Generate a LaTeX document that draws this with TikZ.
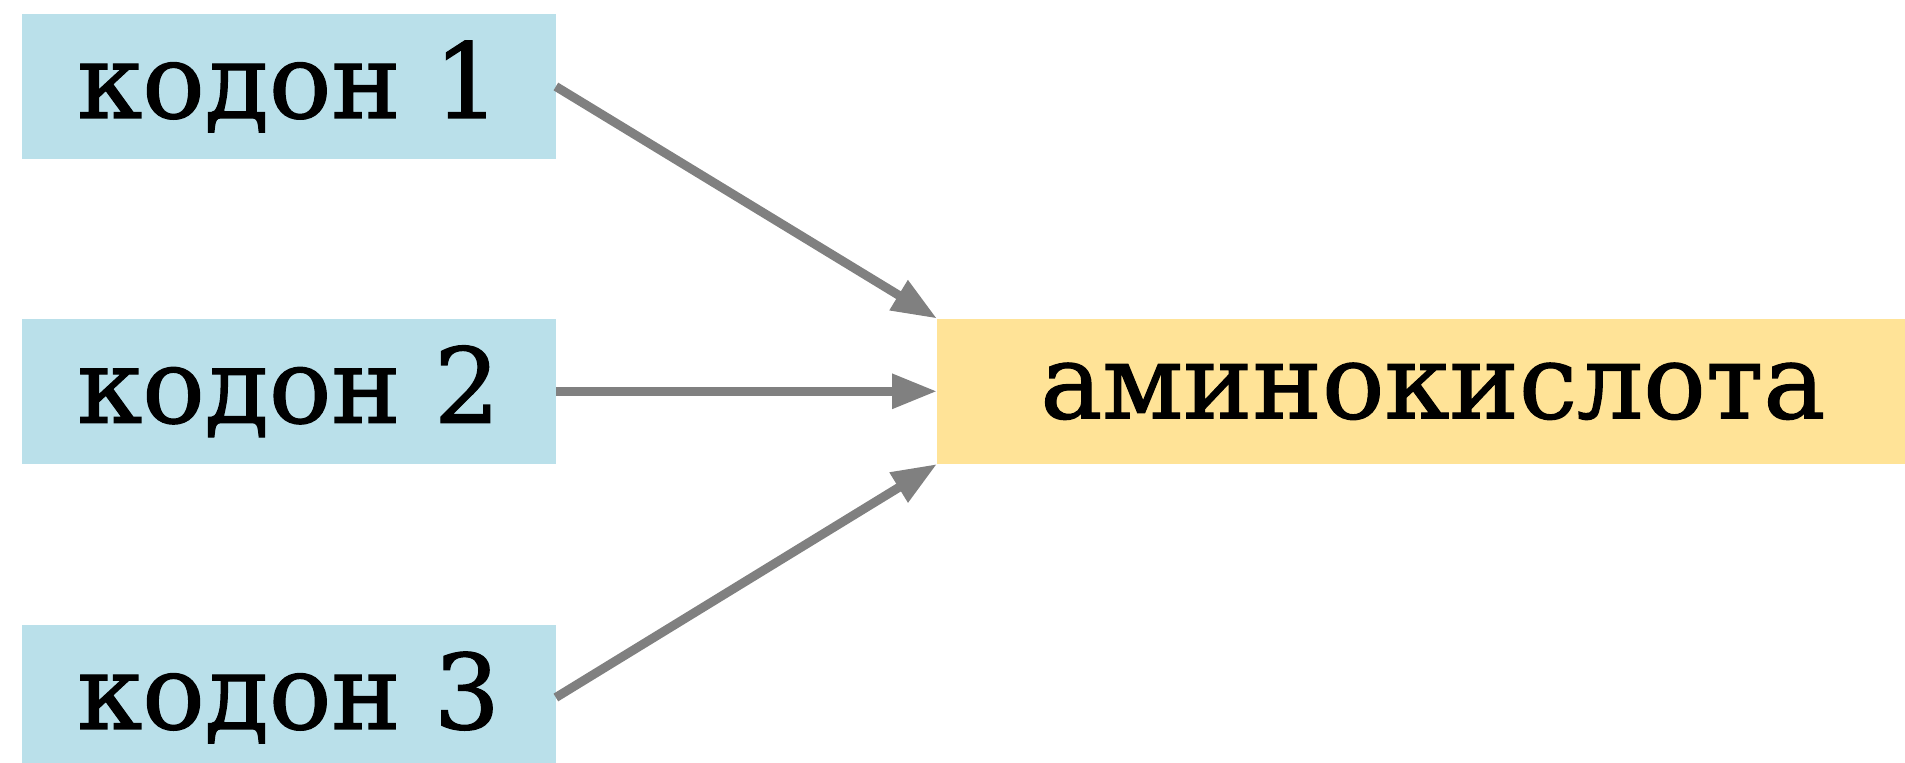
\documentclass[tikz,border=0pt]{standalone}
\usepackage{fontspec}
\setmainfont{DejaVu Serif}
\newfontfamily\labelface{DejaVu Serif}[RawFeature={embolden=1.2}]
\usetikzlibrary{arrows.meta}
\definecolor{codonblue}{HTML}{BAE0EA}
\definecolor{aminoyellow}{HTML}{FFE397}
\definecolor{linkgray}{HTML}{808080}
\tikzset{
  labelfont/.style={font=\labelface\fontsize{78}{94}\selectfont},
  codonbox/.style={fill=codonblue, inner sep=0pt, minimum width=400.5pt, minimum height=108.75pt, labelfont},
  aminobox/.style={fill=aminoyellow, inner sep=0pt, minimum width=743.25pt, minimum height=108.75pt, labelfont},
  link/.style={draw=linkgray, line width=6.75pt, -{Triangle[length=33.75pt,width=24.75pt]}}
}
\begin{document}
\begin{tikzpicture}[x=0.75pt,y=-0.75pt]
  % page frame in pixel units
  \useasboundingbox (0,0) rectangle (1905,763);
  % three codons on the left, the amino acid on the right
  \node[codonbox] (c1) at (288.6,86.5) {кодон 1};
  \node[codonbox] (c2) at (288.6,391.3) {кодон 2};
  \node[codonbox] (c3) at (288.6,697.5) {кодон 3};
  \node[aminobox, anchor=west] (aa) at (937,391.3) {аминокислота};
  % each codon points to the amino acid
  \draw[link] (c1.east) -- (aa.north west);
  \draw[link] (c2.east) -- (aa.west);
  \draw[link] (c3.east) -- (aa.south west);
\end{tikzpicture}
\end{document}
